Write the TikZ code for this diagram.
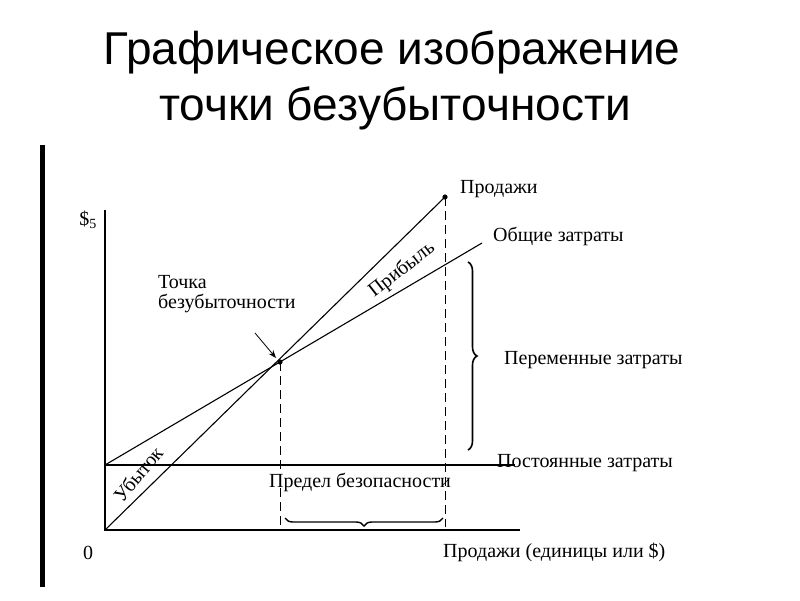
\documentclass[tikz,border=0pt]{standalone}
\usepackage{fontspec}
\setmainfont{Liberation Serif}
\newfontfamily\titlefont{Liberation Sans}
\usetikzlibrary{decorations.pathreplacing,arrows.meta}
\begin{document}
\begin{tikzpicture}[x=1pt,y=-1pt,
  lbl/.style={font=\fontsize{20}{21}\selectfont, inner sep=0pt},
  ln/.style={line width=1.1pt},
  dsh/.style={line width=0.9pt, dash pattern=on 9pt off 5pt}]
\useasboundingbox (0,0) rectangle (800,600);
\node[font=\titlefont\fontsize{46}{50}\selectfont] (t1) at (392,52) {Графическое изображение};
\node[font=\titlefont\fontsize{46}{50}\selectfont] (t2) at (395,108) {точки безубыточности};
\fill (40,145) rectangle (45,587);
\coordinate (O) at (105,530);
\coordinate (Ytop) at (105,210);
\coordinate (Xend) at (520,530);
\coordinate (F0) at (105,465);
\coordinate (F1) at (515,465);
\coordinate (BE) at (280,362);
\coordinate (S1) at (445,197);
\coordinate (T1) at (482,243);
\draw[ln] (Ytop) -- (O) -- (Xend);
\draw[line width=1.6pt] (F0) -- (F1);
\draw[ln] (O) -- (S1);
\draw[ln] (F0) -- (T1);
\fill (BE) circle (2.6pt);
\fill (S1) circle (2.6pt);
\draw[dsh] (BE) -- (280,527);
\draw[dsh] (S1) -- (445,527);
\draw[line width=1.6pt, decorate, decoration={brace, amplitude=9pt}] (468,262) -- (468,450);
\draw[line width=1.4pt, decorate, decoration={brace, amplitude=8pt}] (443,518) -- (285,518);
\node[lbl, anchor=west] (sal) at (460,189) {Продажи};
\node[lbl, anchor=west] (tc) at (493,236) {Общие затраты};
\node[lbl, anchor=west] (vc) at (504,360) {Переменные затраты};
\node[lbl, anchor=west] (fc) at (497,463) {Постоянные затраты};
\node[lbl] (ms) at (360,482) {Предел безопасности};
\node[lbl, anchor=west] (xl) at (443,552) {Продажи (единицы или \$)};
\node[lbl] (zero) at (88,553) {0};
\node[lbl] (yl) at (88,220) {\$\textsubscript{5}};
\node[lbl, font=\fontsize{20}{20}\selectfont, anchor=west, align=left] (bep) at (158,294) {Точка\\безубыточности};
\node[lbl, rotate=38] (pr) at (402,270) {Прибыль};
\node[lbl, rotate=50] (ls) at (138,474) {Убыток};
\coordinate (a0) at (255,333);
\draw[line width=0.8pt, -{Stealth[length=8pt]}] (a0) -- (276,358);
\end{tikzpicture}
\end{document}
